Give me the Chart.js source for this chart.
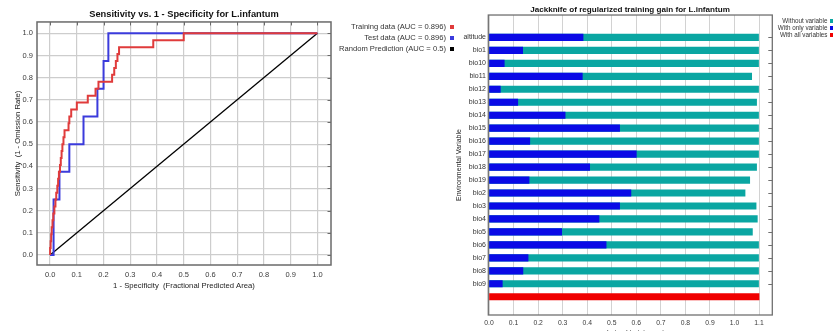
<!DOCTYPE html>
<html>
<head>
<meta charset="utf-8">
<script src="https://cdn.jsdelivr.net/npm/chart.js@4.4.1/dist/chart.umd.min.js"></script>
<style>
  html, body { margin: 0; padding: 0; width: 833px; height: 331px; overflow: hidden; background: #fff; }
  body { position: relative; font-family: 'Liberation Sans', Arial, sans-serif; }
  #roc { position: absolute; left: 0; top: 0; }
  #jack { position: absolute; left: 420px; top: 0; }
  .lg-text { position: absolute; white-space: pre; color: #333; text-align: right; }
  .lg-box { position: absolute; }
</style>
</head>
<body>
<canvas id="roc" width="368" height="331"></canvas>
<canvas id="jack" width="420" height="345"></canvas>
<script>
// ---- ROC curve data (fraction of predicted area vs. sensitivity) ----
const trainFpr = [0, 0.000, 0.002, 0.004, 0.006, 0.009, 0.012, 0.016, 0.020, 0.023, 0.027, 0.030,
                  0.033, 0.037, 0.040, 0.043, 0.046, 0.050, 0.054, 0.069, 0.072, 0.079, 0.100,
                  0.141, 0.170, 0.181, 0.232, 0.240, 0.246, 0.252, 0.258, 0.386, 0.500, 1.0];
const trainTpr = [0, 1/32, 2/32, 3/32, 4/32, 5/32, 6/32, 7/32, 8/32, 9/32, 10/32, 11/32,
                  12/32, 13/32, 14/32, 15/32, 16/32, 17/32, 18/32, 19/32, 20/32, 21/32, 22/32,
                  23/32, 24/32, 25/32, 26/32, 27/32, 28/32, 29/32, 30/32, 31/32, 1.0, 1.0];
const testFpr = [0, 0.013, 0.013, 0.035, 0.072, 0.125, 0.177, 0.200, 0.218, 1.0];
const testTpr = [0, 0.125, 0.250, 0.375, 0.500, 0.625, 0.750, 0.875, 1.000, 1.0];
const randomFpr = [0, 1];
const randomTpr = [0, 1];
const rocSeriesNames = ['Training data (AUC = 0.896)', 'Test data (AUC = 0.896)', 'Random Prediction (AUC = 0.5)'];
const rocColors = ['#e03b3b', '#3b3bdc', '#000000'];
const rocTickValues = [0, 0.1, 0.2, 0.3, 0.4, 0.5, 0.6, 0.7, 0.8, 0.9, 1.0];
const rocTickLabels = ['0.0', '0.1', '0.2', '0.3', '0.4', '0.5', '0.6', '0.7', '0.8', '0.9', '1.0'];

// ---- Jackknife of regularized training gain ----
const gainVariables = ['altitude', 'bio1', 'bio10', 'bio11', 'bio12', 'bio13', 'bio14', 'bio15', 'bio16', 'bio17',
                       'bio18', 'bio19', 'bio2', 'bio3', 'bio4', 'bio5', 'bio6', 'bio7', 'bio8', 'bio9'];
const withOnlyGain = [0.383, 0.137, 0.062, 0.380, 0.046, 0.117, 0.310, 0.532, 0.166, 0.600,
                      0.410, 0.163, 0.578, 0.532, 0.448, 0.296, 0.477, 0.159, 0.138, 0.054];
const withoutGain = [1.098, 1.098, 1.098, 1.070, 1.098, 1.090, 1.098, 1.098, 1.098, 1.098,
                     1.090, 1.062, 1.043, 1.088, 1.093, 1.073, 1.098, 1.098, 1.098, 1.098];
const allGain = 1.100;
const gainSeriesNames = ['Without variable', 'With only variable', 'With all variables'];
const gainColors = ['#0aa6a2', '#0a0ae6', '#f00000'];
const gainTickValues = [0, 0.1, 0.2, 0.3, 0.4, 0.5, 0.6, 0.7, 0.8, 0.9, 1.0, 1.1];
const gainTickLabels = ['0.0', '0.1', '0.2', '0.3', '0.4', '0.5', '0.6', '0.7', '0.8', '0.9', '1.0', '1.1'];

const FAMILY = "'Liberation Sans', Arial, sans-serif";
const pts = (xs, ys) => xs.map((x, i) => ({ x, y: ys[i] }));

// Plot frame with short inward tick marks on the top and right edges
const framePlugin = {
  id: 'frame',
  afterDraw(chart, args, o) {
    const { ctx, chartArea: a } = chart;
    ctx.save();
    ctx.strokeStyle = o.color;
    ctx.lineWidth = o.width;
    ctx.strokeRect(a.left, a.top, a.right - a.left, a.bottom - a.top);
    ctx.lineWidth = 1;
    ctx.beginPath();
    if (o.topTicks) {
      const sx = chart.scales.x;
      sx.ticks.forEach(t => {
        const px = Math.round(sx.getPixelForValue(t.value)) + 0.5;
        ctx.moveTo(px, a.top); ctx.lineTo(px, a.top + o.len);
      });
    }
    if (o.rightTicks) {
      const sy = chart.scales.y;
      sy.ticks.forEach(t => {
        const py = Math.round(sy.getPixelForValue(t.value)) + 0.5;
        ctx.moveTo(a.right, py); ctx.lineTo(a.right - o.len, py);
      });
    }
    ctx.stroke();
    ctx.restore();
  }
};

// Empty right-hand margin axis so the plot title centres over the plot area
const marginAxis = width => ({
  type: 'linear', position: 'right', display: true,
  afterFit: s => { s.width = width; },
  ticks: { display: false }, grid: { display: false, drawTicks: false }, border: { display: false }
});

// ---- Left chart: ROC ----
new Chart(document.getElementById('roc'), {
  type: 'line',
  data: {
    datasets: [
      { label: rocSeriesNames[0], data: pts(trainFpr, trainTpr), borderColor: rocColors[0], borderWidth: 2, stepped: 'before', pointRadius: 0 },
      { label: rocSeriesNames[1], data: pts(testFpr, testTpr), borderColor: rocColors[1], borderWidth: 2, stepped: 'before', pointRadius: 0 },
      { label: rocSeriesNames[2], data: pts(randomFpr, randomTpr), borderColor: rocColors[2], borderWidth: 1.3, pointRadius: 0 }
    ]
  },
  options: {
    responsive: false, animation: false, devicePixelRatio: 1,
    layout: { padding: { left: 0, right: 0, top: 0, bottom: 40.4 } },
    plugins: {
      legend: { display: false }, tooltip: { enabled: false },
      title: { display: true, text: 'Sensitivity vs. 1 - Specificity for L.infantum', color: '#111',
               font: { family: FAMILY, size: 9.3, weight: 'bold' }, padding: { top: 8.4, bottom: 2.4 } },
      frame: { color: '#6a6a6a', width: 1.5, len: 3.5, topTicks: true, rightTicks: true }
    },
    scales: {
      x: {
        type: 'linear', min: -0.049, max: 1.051,
        afterBuildTicks: s => { s.ticks = rocTickValues.map(v => ({ value: v })); },
        afterFit: s => { s.height = 25.6; },
        ticks: { callback: (v, i) => rocTickLabels[i], padding: 5.5, color: '#3a3a3a', autoSkip: false, maxRotation: 0,
                 font: { family: FAMILY, size: 7.5 } },
        grid: { color: '#cdcdcd', lineWidth: 1.2, drawTicks: false },
        border: { display: false },
        title: { display: true, text: '1 - Specificity  (Fractional Predicted Area)', color: '#222',
                 font: { family: FAMILY, size: 7.7 }, padding: { top: 0, bottom: 0 } }
      },
      y: {
        type: 'linear', min: -0.045, max: 1.051,
        afterBuildTicks: s => { s.ticks = rocTickValues.map(v => ({ value: v })); },
        afterFit: s => { s.width = 37; },
        ticks: { callback: (v, i) => rocTickLabels[i], padding: 4, color: '#3a3a3a', autoSkip: false,
                 font: { family: FAMILY, size: 7.5 } },
        grid: { color: '#cdcdcd', lineWidth: 1.2, drawTicks: false },
        border: { display: false },
        title: { display: true, text: 'Sensitivity  (1 - Omission Rate)', color: '#222',
                 font: { family: FAMILY, size: 7.7 }, padding: { top: 13.4, bottom: 0 } }
      },
      margin: marginAxis(37)
    }
  },
  plugins: [framePlugin]
});

// ---- Right chart: jackknife bars ----
const allRow = gainVariables.length;
new Chart(document.getElementById('jack'), {
  type: 'bar',
  data: {
    datasets: [
      { label: gainSeriesNames[1], data: withOnlyGain.map((v, i) => ({ x: v, y: i })), backgroundColor: gainColors[1] },
      { label: gainSeriesNames[0], data: withoutGain.map((v, i) => ({ x: v, y: i })), backgroundColor: gainColors[0] },
      { label: gainSeriesNames[2], data: [{ x: allGain, y: allRow }], backgroundColor: gainColors[2] }
    ]
  },
  options: {
    responsive: false, animation: false, devicePixelRatio: 1,
    indexAxis: 'y',
    datasets: { bar: { grouped: false, barThickness: 6.5, borderWidth: 0 } },
    layout: { padding: { left: 0, right: 0, top: 0, bottom: 7.8 } },
    plugins: {
      legend: { display: false }, tooltip: { enabled: false },
      title: { display: true, text: 'Jackknife of regularized training gain for L.infantum', color: '#111',
               font: { family: FAMILY, size: 8.1, weight: 'bold' }, padding: { top: 4.5, bottom: 0.8 } },
      frame: { color: '#707070', width: 1.3, len: 4, topTicks: false, rightTicks: true }
    },
    scales: {
      x: {
        type: 'linear', min: -0.003, max: 1.154,
        afterBuildTicks: s => { s.ticks = gainTickValues.map(v => ({ value: v })); },
        afterFit: s => { s.height = 22.2; },
        ticks: { callback: (v, i) => gainTickLabels[i], padding: 3.8, color: '#3a3a3a', autoSkip: false, maxRotation: 0,
                 font: { family: FAMILY, size: 6.8 } },
        grid: { color: '#d2d2d2', lineWidth: 1, drawTicks: false },
        border: { display: false },
        title: { display: true, text: 'regularized training gain', color: '#222',
                 font: { family: FAMILY, size: 7 }, padding: { top: 0, bottom: 0 } }
      },
      y: {
        type: 'linear', reverse: true, min: -1.15, max: 20.83,
        afterBuildTicks: s => { s.ticks = gainVariables.map((_, i) => ({ value: i })); },
        afterFit: s => { s.width = 68.3; },
        ticks: { callback: v => gainVariables[v], padding: 2.3, color: '#333', autoSkip: false,
                 font: { family: FAMILY, size: 7 } },
        grid: { display: false, drawTicks: false },
        border: { display: false },
        title: { display: true, text: 'Environmental Variable', color: '#222',
                 font: { family: FAMILY, size: 7 }, padding: { top: 34.8, bottom: 0 } }
      },
      margin: marginAxis(67.7)
    }
  },
  plugins: [framePlugin]
});

// ---- Legends (right-aligned text followed by a small colour square) ----
function legend(names, colors, rightEdge, boxLeft, boxSize, centers, fontSize) {
  names.forEach((name, i) => {
    const t = document.createElement('div');
    t.className = 'lg-text';
    t.textContent = name;
    t.style.fontSize = fontSize + 'px';
    t.style.lineHeight = fontSize + 'px';
    t.style.right = (833 - rightEdge) + 'px';
    t.style.top = (centers[i] - fontSize / 2) + 'px';
    document.body.appendChild(t);
    const b = document.createElement('div');
    b.className = 'lg-box';
    b.style.left = boxLeft + 'px';
    b.style.top = (centers[i] - boxSize / 2) + 'px';
    b.style.width = boxSize + 'px';
    b.style.height = boxSize + 'px';
    b.style.background = colors[i];
    document.body.appendChild(b);
  });
}
legend(rocSeriesNames, rocColors, 446, 450, 4, [27, 38, 49], 7.6);
legend(gainSeriesNames, gainColors, 827.5, 830, 3.5, [21, 28, 35], 6.3);
</script>
</body>
</html>
